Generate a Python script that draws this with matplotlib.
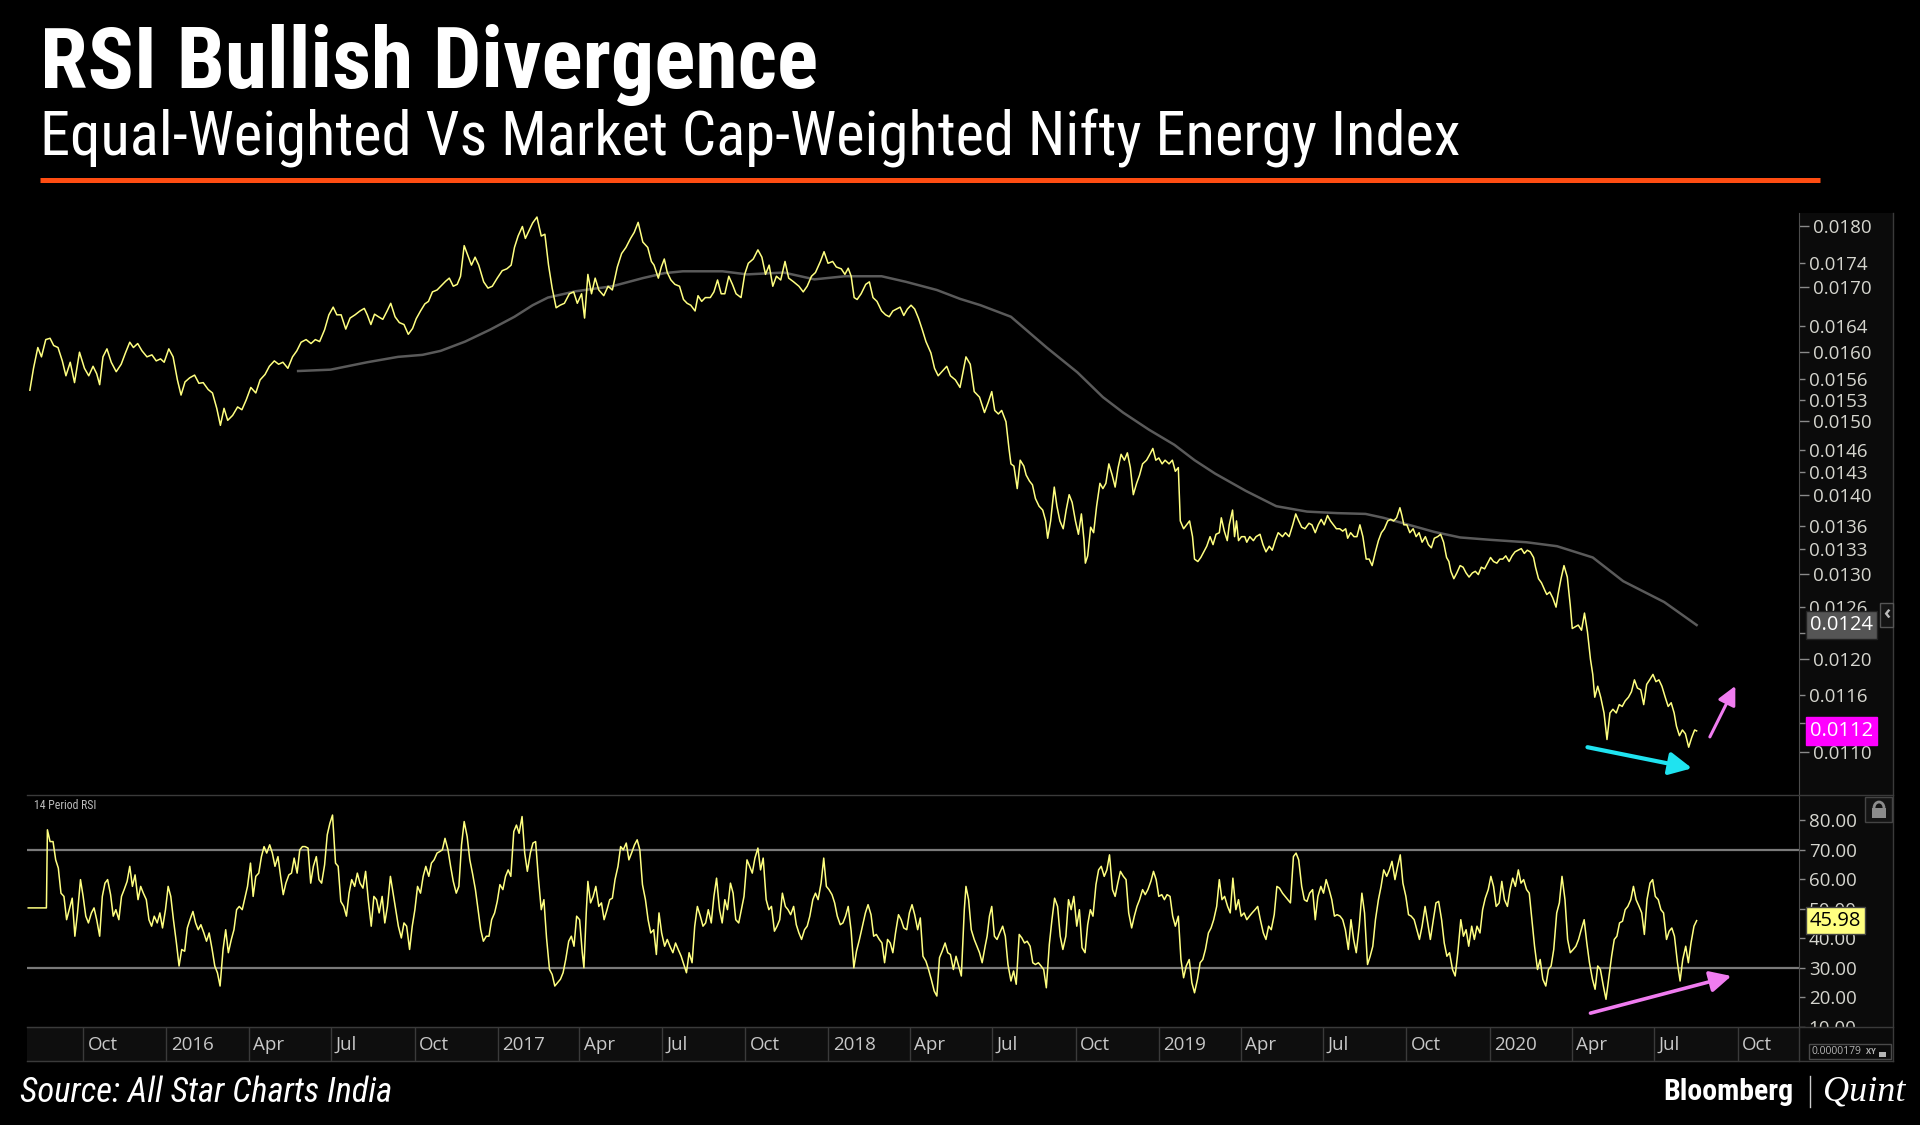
import os
import matplotlib.pyplot as plt
import matplotlib.transforms as mtransforms
from matplotlib.patches import Rectangle, Arc
from matplotlib.lines import Line2D
from matplotlib import font_manager as fm
import numpy as np
import pandas as pd

# ---- data (dates as decimal years) ----
price_years = [
    2015.587, 2015.598, 2015.611, 2015.622, 2015.635, 2015.648, 2015.659, 2015.672, 2015.685, 2015.696,
    2015.709, 2015.722, 2015.737, 2015.752, 2015.765, 2015.778, 2015.789, 2015.798, 2015.808, 2015.820,
    2015.833, 2015.848, 2015.863, 2015.876, 2015.889, 2015.900, 2015.913, 2015.926, 2015.941, 2015.956,
    2015.969, 2015.982, 2015.993, 2016.007, 2016.020, 2016.033, 2016.044, 2016.056, 2016.070, 2016.085,
    2016.098, 2016.111, 2016.126, 2016.139, 2016.152, 2016.163, 2016.174, 2016.185, 2016.200, 2016.215,
    2016.228, 2016.241, 2016.255, 2016.270, 2016.283, 2016.298, 2016.311, 2016.326, 2016.339, 2016.352,
    2016.367, 2016.381, 2016.394, 2016.407, 2016.422, 2016.437, 2016.450, 2016.463, 2016.478, 2016.491,
    2016.504, 2016.515, 2016.528, 2016.542, 2016.555, 2016.570, 2016.585, 2016.598, 2016.607, 2016.618,
    2016.629, 2016.641, 2016.654, 2016.667, 2016.678, 2016.691, 2016.704, 2016.718, 2016.731, 2016.744,
    2016.755, 2016.768, 2016.781, 2016.792, 2016.804, 2016.818, 2016.829, 2016.844, 2016.855, 2016.867,
    2016.879, 2016.889, 2016.900, 2016.911, 2016.922, 2016.933, 2016.944, 2016.959, 2016.972, 2016.985,
    2017.000, 2017.015, 2017.029, 2017.042, 2017.052, 2017.063, 2017.076, 2017.085, 2017.096, 2017.107,
    2017.120, 2017.133, 2017.144, 2017.155, 2017.166, 2017.178, 2017.190, 2017.203, 2017.218, 2017.231,
    2017.242, 2017.255, 2017.264, 2017.274, 2017.285, 2017.296, 2017.307, 2017.322, 2017.335, 2017.348,
    2017.363, 2017.376, 2017.389, 2017.403, 2017.414, 2017.426, 2017.440, 2017.455, 2017.466, 2017.474,
    2017.487, 2017.496, 2017.505, 2017.514, 2017.525, 2017.537, 2017.551, 2017.563, 2017.574, 2017.585,
    2017.598, 2017.607, 2017.618, 2017.629, 2017.644, 2017.655, 2017.666, 2017.677, 2017.688, 2017.700,
    2017.711, 2017.722, 2017.737, 2017.748, 2017.759, 2017.774, 2017.788, 2017.800, 2017.811, 2017.822,
    2017.833, 2017.844, 2017.857, 2017.870, 2017.881, 2017.896, 2017.912, 2017.925, 2017.937, 2017.950,
    2017.962, 2017.977, 2017.988, 2018.000, 2018.014, 2018.025, 2018.040, 2018.051, 2018.061, 2018.070,
    2018.079, 2018.088, 2018.100, 2018.114, 2018.125, 2018.136, 2018.148, 2018.162, 2018.174, 2018.185,
    2018.196, 2018.207, 2018.218, 2018.229, 2018.240, 2018.251, 2018.262, 2018.274, 2018.285, 2018.296,
    2018.311, 2018.322, 2018.333, 2018.348, 2018.359, 2018.370, 2018.385, 2018.399,
    2018.417, 2018.430, 2018.442, 2018.458, 2018.473, 2018.484, 2018.495, 2018.504, 2018.515, 2018.525,
    2018.538, 2018.547, 2018.553, 2018.562, 2018.572, 2018.581, 2018.592, 2018.599, 2018.609, 2018.618,
    2018.627, 2018.638, 2018.649, 2018.658, 2018.664, 2018.673, 2018.684, 2018.692, 2018.701, 2018.711,
    2018.720, 2018.729, 2018.738, 2018.748, 2018.757, 2018.766, 2018.774, 2018.778, 2018.785, 2018.794,
    2018.803, 2018.812, 2018.822, 2018.831, 2018.840, 2018.849, 2018.859, 2018.868, 2018.877, 2018.886,
    2018.896, 2018.905, 2018.914, 2018.923, 2018.933, 2018.942, 2018.951, 2018.963, 2018.973, 2018.982,
    2018.991, 2019.000, 2019.010, 2019.019, 2019.031, 2019.041, 2019.050, 2019.059, 2019.065, 2019.075,
    2019.084, 2019.093, 2019.102, 2019.108, 2019.118, 2019.127, 2019.136, 2019.145, 2019.155, 2019.164,
    2019.173, 2019.183, 2019.189, 2019.198, 2019.207, 2019.213, 2019.223, 2019.229, 2019.235, 2019.241,
    2019.250, 2019.260, 2019.266, 2019.275, 2019.286, 2019.294, 2019.306, 2019.315, 2019.324, 2019.334,
    2019.343, 2019.352, 2019.361, 2019.374, 2019.383, 2019.394, 2019.405, 2019.414, 2019.423, 2019.432,
    2019.442, 2019.454, 2019.463, 2019.473, 2019.482, 2019.491, 2019.500, 2019.510, 2019.519, 2019.528,
    2019.537, 2019.547, 2019.556, 2019.565, 2019.571, 2019.580, 2019.590, 2019.599, 2019.608, 2019.617,
    2019.627, 2019.636, 2019.645, 2019.655, 2019.664, 2019.673, 2019.682, 2019.692, 2019.701, 2019.710,
    2019.719, 2019.729, 2019.735, 2019.741, 2019.750, 2019.759, 2019.769, 2019.778, 2019.787, 2019.796,
    2019.806, 2019.815, 2019.824, 2019.833, 2019.843, 2019.852, 2019.861, 2019.870, 2019.877, 2019.883,
    2019.892, 2019.901, 2019.911, 2019.920, 2019.929, 2019.938, 2019.948, 2019.957, 2019.966, 2019.975,
    2019.985, 2019.994, 2020.003, 2020.012, 2020.022, 2020.031, 2020.040, 2020.049, 2020.059, 2020.068,
    2020.077, 2020.086, 2020.096, 2020.105, 2020.114, 2020.123, 2020.133, 2020.139, 2020.148, 2020.157,
    2020.167, 2020.173, 2020.182, 2020.191, 2020.201, 2020.207, 2020.216, 2020.225, 2020.235, 2020.244,
    2020.250, 2020.259, 2020.268, 2020.278, 2020.287, 2020.296, 2020.305, 2020.312, 2020.318, 2020.327,
    2020.336, 2020.346, 2020.355, 2020.364, 2020.373, 2020.383, 2020.392, 2020.401, 2020.410, 2020.420,
    2020.429, 2020.438, 2020.447, 2020.457, 2020.466, 2020.475, 2020.484, 2020.494, 2020.503, 2020.512,
    2020.521, 2020.531, 2020.540, 2020.549, 2020.558, 2020.565, 2020.574, 2020.583, 2020.592, 2020.602,
    2020.611, 2020.620, 2020.626,
]
price_vals = [
    0.01544, 0.01576, 0.01607, 0.01593, 0.01619, 0.01621, 0.01610, 0.01607, 0.01587, 0.01565,
    0.01585, 0.01555, 0.01600, 0.01576, 0.01565, 0.01579, 0.01568, 0.01552, 0.01593, 0.01605,
    0.01585, 0.01571, 0.01582, 0.01599, 0.01615, 0.01607, 0.01613, 0.01602, 0.01593, 0.01596,
    0.01587, 0.01590, 0.01585, 0.01605, 0.01593, 0.01559, 0.01537, 0.01556, 0.01562, 0.01566,
    0.01554, 0.01555, 0.01545, 0.01540, 0.01518, 0.01494, 0.01518, 0.01501, 0.01508, 0.01520,
    0.01516, 0.01530, 0.01548, 0.01540, 0.01559, 0.01567, 0.01579, 0.01587, 0.01582, 0.01585,
    0.01576, 0.01593, 0.01602, 0.01615, 0.01619, 0.01613, 0.01619, 0.01616, 0.01634, 0.01657,
    0.01669, 0.01657, 0.01657, 0.01635, 0.01652, 0.01657, 0.01663, 0.01667, 0.01657, 0.01642,
    0.01658, 0.01654, 0.01650, 0.01663, 0.01675, 0.01654, 0.01645, 0.01642, 0.01627, 0.01636,
    0.01651, 0.01663, 0.01674, 0.01678, 0.01693, 0.01696, 0.01702, 0.01710, 0.01715, 0.01702,
    0.01705, 0.01718, 0.01768, 0.01752, 0.01736, 0.01749, 0.01736, 0.01709, 0.01699, 0.01702,
    0.01715, 0.01727, 0.01730, 0.01736, 0.01765, 0.01784, 0.01800, 0.01780, 0.01793, 0.01806,
    0.01816, 0.01784, 0.01787, 0.01736, 0.01699, 0.01668, 0.01672, 0.01675, 0.01690, 0.01693,
    0.01675, 0.01690, 0.01652, 0.01721, 0.01690, 0.01715, 0.01696, 0.01687, 0.01702, 0.01696,
    0.01733, 0.01755, 0.01765, 0.01780, 0.01790, 0.01807, 0.01774, 0.01765, 0.01742, 0.01736,
    0.01715, 0.01733, 0.01746, 0.01724, 0.01712, 0.01705, 0.01702, 0.01681, 0.01675, 0.01672,
    0.01663, 0.01687, 0.01678, 0.01684, 0.01684, 0.01693, 0.01712, 0.01690, 0.01690, 0.01718,
    0.01705, 0.01690, 0.01684, 0.01721, 0.01739, 0.01746, 0.01761, 0.01749, 0.01721, 0.01736,
    0.01702, 0.01718, 0.01712, 0.01742, 0.01715, 0.01709, 0.01702, 0.01693, 0.01702, 0.01718,
    0.01724, 0.01742, 0.01758, 0.01739, 0.01742, 0.01733, 0.01730, 0.01721, 0.01731, 0.01718,
    0.01684, 0.01681, 0.01690, 0.01705, 0.01709, 0.01684, 0.01678, 0.01663, 0.01657, 0.01654,
    0.01663, 0.01666, 0.01669, 0.01656, 0.01666, 0.01672, 0.01666, 0.01651, 0.01634, 0.01616,
    0.01599, 0.01576, 0.01565, 0.01573, 0.01579, 0.01565, 0.01559, 0.01548,
    0.01593, 0.01582, 0.01542, 0.01534, 0.01512, 0.01526, 0.01542, 0.01515, 0.01510, 0.01515,
    0.01499, 0.01462, 0.01441, 0.01438, 0.01408, 0.01446, 0.01438, 0.01426, 0.01418, 0.01413,
    0.01395, 0.01385, 0.01380, 0.01366, 0.01344, 0.01366, 0.01410, 0.01385, 0.01366, 0.01356,
    0.01380, 0.01400, 0.01390, 0.01366, 0.01349, 0.01375, 0.01341, 0.01313, 0.01322, 0.01358,
    0.01351, 0.01385, 0.01415, 0.01408, 0.01415, 0.01441, 0.01426, 0.01410, 0.01436, 0.01454,
    0.01446, 0.01456, 0.01436, 0.01400, 0.01415, 0.01426, 0.01441, 0.01446, 0.01454, 0.01462,
    0.01446, 0.01449, 0.01441, 0.01446, 0.01441, 0.01446, 0.01431, 0.01436, 0.01366, 0.01356,
    0.01361, 0.01366, 0.01346, 0.01318, 0.01315, 0.01320, 0.01327, 0.01334, 0.01346, 0.01336,
    0.01349, 0.01351, 0.01370, 0.01353, 0.01341, 0.01361, 0.01380, 0.01346, 0.01366, 0.01341,
    0.01346, 0.01346, 0.01339, 0.01346, 0.01341, 0.01346, 0.01349, 0.01336, 0.01327, 0.01334,
    0.01329, 0.01341, 0.01351, 0.01346, 0.01351, 0.01346, 0.01361, 0.01375, 0.01366, 0.01358,
    0.01356, 0.01363, 0.01361, 0.01351, 0.01361, 0.01368, 0.01361, 0.01373, 0.01366, 0.01361,
    0.01356, 0.01356, 0.01353, 0.01356, 0.01344, 0.01351, 0.01346, 0.01346, 0.01361, 0.01346,
    0.01318, 0.01318, 0.01310, 0.01327, 0.01341, 0.01351, 0.01356, 0.01366, 0.01368, 0.01366,
    0.01370, 0.01383, 0.01373, 0.01361, 0.01361, 0.01351, 0.01356, 0.01346, 0.01351, 0.01339,
    0.01346, 0.01336, 0.01332, 0.01344, 0.01346, 0.01349, 0.01339, 0.01320, 0.01315, 0.01303,
    0.01294, 0.01301, 0.01310, 0.01308, 0.01301, 0.01296, 0.01301, 0.01303, 0.01299, 0.01308,
    0.01306, 0.01313, 0.01320, 0.01315, 0.01313, 0.01318, 0.01318, 0.01322, 0.01315, 0.01322,
    0.01327, 0.01329, 0.01331, 0.01325, 0.01329, 0.01327, 0.01320, 0.01308, 0.01294, 0.01289,
    0.01280, 0.01275, 0.01278, 0.01271, 0.01260, 0.01275, 0.01294, 0.01310, 0.01296, 0.01262,
    0.01235, 0.01237, 0.01239, 0.01233, 0.01253, 0.01231, 0.01200, 0.01183, 0.01158, 0.01170,
    0.01158, 0.01141, 0.01113, 0.01141, 0.01145, 0.01141, 0.01150, 0.01148, 0.01154, 0.01158,
    0.01164, 0.01177, 0.01168, 0.01166, 0.01150, 0.01172, 0.01177, 0.01183, 0.01175, 0.01177,
    0.01170, 0.01158, 0.01148, 0.01152, 0.01141, 0.01127, 0.01117, 0.01123, 0.01119, 0.01105,
    0.01115, 0.01123, 0.01122,
]

ma_years = [
    2016.398, 2016.496, 2016.607, 2016.700, 2016.774, 2016.829, 2016.903, 2016.978,
    2017.052, 2017.107, 2017.153, 2017.237, 2017.348, 2017.440, 2017.505, 2017.561, 2017.681, 2017.755, 2017.866, 2017.959,
    2018.051, 2018.162, 2018.236, 2018.329, 2018.399, 2018.461, 2018.553, 2018.661, 2018.754, 2018.831, 2018.892, 2018.970,
    2019.047, 2019.108, 2019.170, 2019.263, 2019.355, 2019.448, 2019.540, 2019.625, 2019.679, 2019.756, 2019.833, 2019.911,
    2020.003, 2020.111, 2020.204, 2020.312, 2020.404, 2020.528, 2020.626,
]
ma_vals = [
    0.01572, 0.01574, 0.01585, 0.01593, 0.01596, 0.01602, 0.01616, 0.01634,
    0.01654, 0.01672, 0.01684, 0.01694, 0.01702, 0.01715, 0.01723, 0.01726, 0.01726, 0.01721, 0.01724, 0.01713,
    0.01718, 0.01718, 0.01709, 0.01696, 0.01682, 0.01672, 0.01654, 0.01607, 0.01570, 0.01534, 0.01512, 0.01488,
    0.01467, 0.01446, 0.01428, 0.01405, 0.01385, 0.01378, 0.01376, 0.01375, 0.01370, 0.01361, 0.01352, 0.01345,
    0.01342, 0.01339, 0.01334, 0.01320, 0.01291, 0.01266, 0.01239,
]

rsi_years = [
    2015.582, 2015.637, 2015.640, 2015.648, 2015.657, 2015.665, 2015.673, 2015.681, 2015.690, 2015.698,
    2015.706, 2015.715, 2015.723, 2015.731, 2015.740, 2015.748, 2015.756, 2015.764, 2015.773, 2015.781,
    2015.789, 2015.798, 2015.806, 2015.814, 2015.822, 2015.831, 2015.839, 2015.847, 2015.856, 2015.864,
    2015.872, 2015.881, 2015.889, 2015.897, 2015.905, 2015.914, 2015.922, 2015.930, 2015.939, 2015.947,
    2015.955, 2015.963, 2015.972, 2015.980, 2015.988, 2015.997, 2016.005, 2016.013, 2016.021, 2016.030,
    2016.038, 2016.046, 2016.055, 2016.063, 2016.071, 2016.080, 2016.088, 2016.096, 2016.104, 2016.113,
    2016.121, 2016.129, 2016.138, 2016.146, 2016.154, 2016.162, 2016.171, 2016.179, 2016.187, 2016.196,
    2016.204, 2016.212, 2016.220, 2016.229, 2016.237, 2016.245, 2016.254, 2016.262, 2016.270, 2016.279,
    2016.287, 2016.295, 2016.303, 2016.312, 2016.320, 2016.328, 2016.337, 2016.345, 2016.353, 2016.361,
    2016.370, 2016.378, 2016.386, 2016.395, 2016.403, 2016.411, 2016.419, 2016.428, 2016.436, 2016.444,
    2016.453, 2016.461, 2016.469, 2016.478, 2016.486, 2016.494, 2016.502, 2016.511, 2016.519, 2016.527,
    2016.536, 2016.544, 2016.552, 2016.560, 2016.569, 2016.577, 2016.585, 2016.594, 2016.602, 2016.610,
    2016.619, 2016.627, 2016.635, 2016.643, 2016.652, 2016.660, 2016.668, 2016.677, 2016.685, 2016.693,
    2016.701, 2016.710, 2016.718, 2016.726, 2016.735, 2016.743, 2016.751, 2016.759, 2016.768, 2016.776,
    2016.784, 2016.793, 2016.801, 2016.809, 2016.818, 2016.826, 2016.834, 2016.842, 2016.851, 2016.859,
    2016.867, 2016.876, 2016.884, 2016.892, 2016.900, 2016.909, 2016.917, 2016.925, 2016.934, 2016.942,
    2016.950, 2016.958, 2016.967, 2016.975, 2016.983, 2016.992, 2017.000, 2017.008, 2017.017, 2017.025,
    2017.033, 2017.041, 2017.050, 2017.058, 2017.066, 2017.075, 2017.083, 2017.091, 2017.100, 2017.108,
    2017.116, 2017.124, 2017.133, 2017.141, 2017.149, 2017.158, 2017.166, 2017.174, 2017.182, 2017.191,
    2017.199, 2017.207, 2017.216, 2017.224, 2017.232, 2017.240, 2017.249, 2017.257, 2017.262, 2017.269,
    2017.274, 2017.282, 2017.290, 2017.298, 2017.307, 2017.315, 2017.323, 2017.332, 2017.340, 2017.348,
    2017.356, 2017.365, 2017.373, 2017.381, 2017.390, 2017.398, 2017.406, 2017.415, 2017.423, 2017.431,
    2017.439, 2017.448, 2017.456, 2017.464, 2017.473, 2017.481, 2017.489, 2017.497, 2017.506, 2017.514,
    2017.522, 2017.531, 2017.539, 2017.547, 2017.556, 2017.564, 2017.572, 2017.580, 2017.589, 2017.597,
    2017.605, 2017.614, 2017.622, 2017.630, 2017.638, 2017.647, 2017.655, 2017.663, 2017.672, 2017.680,
    2017.688, 2017.696, 2017.705, 2017.713, 2017.721, 2017.730, 2017.738, 2017.746, 2017.755, 2017.763,
    2017.771, 2017.779, 2017.788, 2017.796, 2017.804, 2017.813, 2017.821, 2017.829, 2017.838, 2017.846,
    2017.854, 2017.862, 2017.871, 2017.879, 2017.887, 2017.896, 2017.904, 2017.912, 2017.920, 2017.929,
    2017.937, 2017.945, 2017.954, 2017.962, 2017.970, 2017.979, 2017.987, 2017.995, 2018.003, 2018.012,
    2018.020, 2018.028, 2018.037, 2018.045, 2018.053, 2018.061, 2018.070, 2018.078, 2018.086, 2018.095,
    2018.105, 2018.113, 2018.121, 2018.130, 2018.138, 2018.146, 2018.155, 2018.163, 2018.171, 2018.180,
    2018.188, 2018.196, 2018.204, 2018.213, 2018.221, 2018.229, 2018.238, 2018.246, 2018.254, 2018.262,
    2018.271, 2018.279, 2018.287, 2018.296, 2018.304, 2018.312, 2018.321, 2018.329, 2018.337, 2018.345,
    2018.354, 2018.362, 2018.370, 2018.379, 2018.387, 2018.395, 2018.403, 2018.412, 2018.417, 2018.425,
    2018.433, 2018.442, 2018.450, 2018.458, 2018.466, 2018.475, 2018.481, 2018.488, 2018.495, 2018.503,
    2018.511, 2018.519, 2018.528, 2018.536, 2018.544, 2018.553, 2018.561, 2018.569, 2018.578, 2018.586,
    2018.594, 2018.602, 2018.611, 2018.619, 2018.627, 2018.636, 2018.644, 2018.652, 2018.660, 2018.669,
    2018.677, 2018.685, 2018.694, 2018.702, 2018.710, 2018.719, 2018.727, 2018.735, 2018.743, 2018.752,
    2018.760, 2018.768, 2018.777, 2018.785, 2018.793, 2018.801, 2018.810, 2018.818, 2018.826, 2018.835,
    2018.843, 2018.851, 2018.860, 2018.868, 2018.876, 2018.884, 2018.893, 2018.901, 2018.909, 2018.918,
    2018.926, 2018.934, 2018.942, 2018.951, 2018.959, 2018.967, 2018.976, 2018.984, 2018.992, 2019.000,
    2019.009, 2019.017, 2019.025, 2019.034, 2019.042, 2019.050, 2019.059, 2019.067, 2019.075, 2019.083,
    2019.092, 2019.100, 2019.108, 2019.117, 2019.125, 2019.133, 2019.141, 2019.150, 2019.158, 2019.166,
    2019.175, 2019.183, 2019.191, 2019.199, 2019.208, 2019.216, 2019.224, 2019.233, 2019.241, 2019.249,
    2019.258, 2019.266, 2019.274, 2019.282, 2019.291, 2019.299, 2019.307, 2019.316, 2019.324, 2019.332,
    2019.340, 2019.349, 2019.357, 2019.365, 2019.374, 2019.382, 2019.390, 2019.398, 2019.407, 2019.415,
    2019.423, 2019.432, 2019.440, 2019.448, 2019.456, 2019.465, 2019.473, 2019.481, 2019.490, 2019.498,
    2019.506, 2019.515, 2019.523, 2019.531, 2019.539, 2019.548, 2019.556, 2019.564, 2019.573, 2019.581,
    2019.589, 2019.597, 2019.606, 2019.614, 2019.622, 2019.631, 2019.639, 2019.647, 2019.655, 2019.664,
    2019.672, 2019.680, 2019.689, 2019.697, 2019.705, 2019.714, 2019.722, 2019.730, 2019.738, 2019.747,
    2019.755, 2019.763, 2019.772, 2019.780, 2019.788, 2019.796, 2019.805, 2019.813, 2019.821, 2019.830,
    2019.838, 2019.846, 2019.855, 2019.863, 2019.871, 2019.879, 2019.888, 2019.896, 2019.904, 2019.913,
    2019.921, 2019.929, 2019.937, 2019.946, 2019.954, 2019.962, 2019.971, 2019.979, 2019.987, 2019.996,
    2020.004, 2020.012, 2020.020, 2020.029, 2020.037, 2020.045, 2020.054, 2020.062, 2020.070, 2020.078,
    2020.087, 2020.095, 2020.103, 2020.112, 2020.120, 2020.128, 2020.136, 2020.145, 2020.153, 2020.161,
    2020.170, 2020.178, 2020.186, 2020.194, 2020.203, 2020.211, 2020.219, 2020.228, 2020.236, 2020.244,
    2020.253, 2020.261, 2020.269, 2020.277, 2020.286, 2020.294, 2020.302, 2020.311, 2020.319, 2020.327,
    2020.335, 2020.344, 2020.352, 2020.360, 2020.369, 2020.377, 2020.385, 2020.393, 2020.402, 2020.410,
    2020.418, 2020.427, 2020.435, 2020.443, 2020.452, 2020.460, 2020.468, 2020.476, 2020.485, 2020.493,
    2020.501, 2020.510, 2020.518, 2020.526, 2020.535, 2020.543, 2020.551, 2020.559, 2020.568, 2020.576,
    2020.584, 2020.593, 2020.601, 2020.609, 2020.618, 2020.626,
]
rsi_vals = [
    50.3, 50.3, 76.8, 72.8, 72.8, 66.6, 63.8, 55.3, 54.2, 46.3,
    49.7, 53.6, 40.7, 48.6, 59.9, 54.2, 47.5, 45.2, 48.6, 50.3,
    46.3, 40.7, 54.2, 58.7, 59.9, 54.8, 47.5, 49.7, 46.3, 54.2,
    56.5, 59.3, 64.4, 57.6, 61.5, 53.1, 57.6, 55.3, 53.1, 46.3,
    44.1, 47.5, 45.2, 48.6, 43.5, 49.7, 57.6, 54.2, 46.3, 38.4,
    30.6, 36.2, 35.6, 43.5, 46.3, 49.1, 45.2, 42.9, 44.6, 41.8,
    39.0, 41.8, 36.2, 30.6, 28.3, 23.8, 36.2, 42.9, 35.1, 39.6,
    42.9, 49.7, 50.8, 49.7, 53.6, 57.6, 65.5, 54.2, 61.0, 62.1,
    67.7, 71.1, 68.9, 71.7, 68.9, 64.4, 67.7, 61.0, 54.8, 58.7,
    61.5, 62.1, 67.2, 62.1, 70.0, 71.1, 71.1, 70.6, 58.7, 64.4,
    67.7, 59.9, 58.7, 64.9, 75.1, 79.0, 81.8, 65.5, 64.4, 52.5,
    50.8, 47.5, 55.3, 59.9, 57.6, 62.1, 58.7, 57.0, 62.7, 53.1,
    44.1, 54.2, 53.1, 48.6, 54.2, 45.2, 50.8, 61.0, 55.3, 49.7,
    44.1, 40.1, 45.2, 44.1, 36.2, 44.1, 49.7, 57.6, 55.3, 61.0,
    64.4, 61.0, 65.5, 66.6, 68.9, 69.4, 70.0, 73.9, 70.0, 64.4,
    59.3, 55.3, 57.6, 71.7, 79.6, 74.5, 66.6, 62.1, 56.5, 49.7,
    42.9, 39.0, 40.7, 40.7, 46.3, 48.6, 52.5, 58.2, 56.5, 61.0,
    63.2, 61.0, 76.2, 78.4, 75.6, 81.3, 68.9, 62.7, 68.9, 72.3,
    72.8, 61.0, 49.7, 53.1, 40.1, 29.4, 27.7, 23.8, 24.9, 26.1,
    28.3, 32.8, 39.0, 40.7, 37.3, 47.5, 46.3, 35.1, 30.0, 48.6,
    59.3, 52.0, 54.2, 57.6, 50.8, 52.0, 46.3, 49.7, 53.1, 53.6,
    59.9, 64.4, 71.1, 70.0, 72.3, 66.6, 68.9, 71.7, 73.4, 70.0,
    58.2, 53.1, 46.3, 41.8, 42.9, 34.5, 48.6, 41.8, 37.3, 39.6,
    37.3, 35.1, 38.4, 36.2, 33.9, 31.1, 28.3, 35.1, 31.7, 44.1,
    50.8, 47.5, 44.1, 45.2, 49.7, 45.2, 54.2, 60.4, 49.7, 45.2,
    53.1, 49.7, 58.7, 55.3, 46.3, 45.2, 49.7, 54.2, 66.6, 64.4,
    62.1, 67.2, 70.6, 63.2, 67.2, 53.1, 49.7, 50.8, 42.4, 44.1,
    46.3, 55.3, 50.8, 49.7, 48.0, 50.8, 44.6, 41.8, 39.6, 42.9,
    44.1, 47.5, 53.1, 55.3, 53.1, 58.7, 67.2, 57.6, 56.5, 54.8,
    52.0, 47.5, 44.6, 45.2, 47.5, 50.8, 42.4, 30.0, 35.6, 39.6,
    44.6, 48.6, 51.4, 48.0, 40.7, 41.3, 39.6, 38.4, 31.7, 39.6,
    38.4, 35.1, 41.8, 48.0, 46.3, 43.5, 42.9, 48.6, 51.4, 48.0,
    42.9, 46.9, 33.9, 32.2, 29.4, 26.1, 22.1, 20.4, 33.4, 35.6,
    38.4, 35.1, 34.5, 29.4, 33.9, 30.6, 27.2, 49.7, 57.6, 53.1,
    42.9, 39.6, 37.3, 35.1, 31.7, 37.3, 40.7, 47.5, 50.8, 40.7,
    39.6, 41.8, 44.1, 40.7, 31.1, 25.5, 28.9, 24.4, 41.3, 40.1,
    38.4, 39.0, 37.3, 31.7, 31.1, 31.7, 30.6, 29.4, 23.2, 37.9,
    46.3, 53.6, 50.8, 40.7, 36.2, 40.7, 53.1, 49.7, 54.2, 44.1,
    49.7, 36.8, 35.1, 44.6, 49.7, 47.5, 58.2, 63.2, 64.4, 61.0,
    63.2, 68.3, 56.5, 54.2, 58.7, 62.7, 61.0, 59.9, 48.6, 43.5,
    47.5, 50.8, 53.1, 56.5, 54.8, 56.5, 59.3, 62.7, 59.9, 54.2,
    54.8, 53.1, 54.8, 54.2, 47.5, 44.1, 47.5, 32.8, 26.6, 30.6,
    32.8, 24.9, 21.5, 26.1, 31.7, 32.8, 36.2, 41.8, 43.5, 46.3,
    50.8, 59.9, 53.1, 54.2, 50.8, 48.6, 60.4, 49.7, 53.1, 47.5,
    48.6, 46.3, 47.5, 48.6, 49.7, 50.8, 46.3, 41.8, 39.6, 44.1,
    42.9, 48.0, 57.6, 57.0, 55.3, 54.2, 53.1, 52.0, 67.7, 68.9,
    66.6, 57.6, 53.1, 52.5, 55.3, 56.5, 46.3, 54.2, 57.6, 55.3,
    59.9, 56.5, 53.1, 47.5, 48.0, 47.5, 46.3, 42.9, 36.2, 46.3,
    39.6, 35.1, 44.1, 55.3, 48.6, 31.1, 33.9, 37.3, 46.3, 53.1,
    57.6, 63.2, 61.0, 63.2, 66.1, 59.9, 64.4, 68.3, 58.7, 54.2,
    48.0, 47.5, 46.3, 42.9, 39.6, 44.1, 50.8, 45.2, 39.6, 46.3,
    52.0, 52.5, 46.3, 38.4, 33.9, 35.1, 29.4, 27.2, 35.1, 46.3,
    40.7, 42.9, 37.3, 44.1, 39.6, 44.1, 41.8, 49.7, 53.6, 56.5,
    61.0, 57.6, 50.8, 52.0, 59.3, 53.1, 50.8, 56.5, 60.4, 57.6,
    63.2, 58.7, 59.9, 56.5, 55.3, 46.3, 37.3, 29.4, 32.8, 26.1,
    23.8, 29.4, 30.6, 36.2, 48.6, 52.0, 61.0, 53.1, 39.6, 35.1,
    36.2, 37.3, 39.6, 42.9, 46.3, 38.4, 31.7, 26.1, 22.7, 30.6,
    29.4, 23.8, 19.3, 26.1, 33.9, 39.6, 40.7, 45.2, 45.8, 49.7,
    50.8, 53.1, 57.6, 53.1, 50.8, 48.6, 41.3, 53.1, 58.7, 59.9,
    54.2, 53.1, 49.7, 48.6, 39.6, 42.4, 43.5, 40.7, 31.7, 25.5,
    32.8, 37.3, 31.7, 38.4, 44.1, 45.98,
]

# annotation arrows: (start year, start value) -> (end year, end value)
cyan_arrow = [(2020.296, 0.01105), (2020.612, 0.010834)]
price_up_arrow = [(2020.666, 0.011157), (2020.743, 0.011703)]
rsi_up_arrow = [(2020.305, 14.6), (2020.731, 27.2)]

price_major = [0.0110, 0.0120, 0.0130, 0.0140, 0.0150, 0.0160, 0.0170, 0.0180]
price_minor = [0.0113, 0.0116, 0.0123, 0.0126, 0.0133, 0.0136, 0.0143, 0.0146,
               0.0153, 0.0156, 0.0164, 0.0174]
hidden_minor = [0.0113, 0.0123]   # labels sit fully under the value tags
rsi_ticks = [10, 20, 30, 40, 50, 60, 70, 80]


def to_dates(years):
    years = np.asarray(years, dtype=float)
    return (pd.Timestamp('2016-01-01')
            + pd.to_timedelta((years - 2016) * 365.25, unit='D')).values


# ---- fonts: look for a condensed face, else fall back to Roboto ----
font_files = [f.fname for f in fm.fontManager.ttflist]


def find_face(patterns, exclude=()):
    for pat in patterns:
        for fn in font_files:
            base = os.path.basename(fn)
            if pat.lower() in base.lower() and not any(e.lower() in base.lower() for e in exclude):
                return fn
    return None


bold_c = find_face(['RobotoCondensed-Bold', 'LiberationSansNarrow-Bold', 'NotoSans-CondensedBold',
                    'OpenSans-CondensedBold', 'OpenSans_Condensed-Bold', 'DejaVuSansCondensed-Bold'],
                   exclude=('Italic', 'Oblique', 'Extra', 'Semi'))
reg_c = find_face(['RobotoCondensed-Regular', 'LiberationSansNarrow-Regular', 'NotoSans-Condensed.',
                   'OpenSans-CondensedRegular', 'OpenSans_Condensed-Regular', 'DejaVuSansCondensed.'])
ital_c = find_face(['RobotoCondensed-Italic', 'LiberationSansNarrow-Italic', 'NotoSans-CondensedItalic',
                    'OpenSans-CondensedItalic', 'DejaVuSansCondensed-Oblique'],
                   exclude=('Bold', 'Light', 'Semi', 'Extra', 'Medium', 'Thin', 'Black'))


def face(path, size, **fallback):
    if path:
        return fm.FontProperties(fname=path, size=size)
    return fm.FontProperties(family='Roboto', size=size, **fallback)


names = {f.name for f in fm.fontManager.ttflist}
UI = 'Open Sans' if 'Open Sans' in names else 'DejaVu Sans'
plt.rcParams['font.family'] = [UI, 'DejaVu Sans']

YELLOW = '#FFFF80'
W, H = 1920, 1125
fig = plt.figure(figsize=(W / 100, H / 100), dpi=100, facecolor='black')


def fx(px):
    return px / W


def fy(py):
    return 1 - py / H


L, R = 27, 1799
x0, x1 = to_dates([2015.5783, 2020.9355])

# right axis column background
fig.patches.append(Rectangle((fx(R), fy(1061)), fx(1893) - fx(R), fy(213) - fy(1061),
                             transform=fig.transFigure, fc='#0b0b0b', ec='none', zorder=-5))

# ---- price panel ----
ax_p = fig.add_axes([fx(L), fy(795), fx(R) - fx(L), fy(213) - fy(795)])
ax_p.set_facecolor('black')
ax_p.plot(to_dates(ma_years), ma_vals, color='#5a5a5a', lw=1.8)
ax_p.plot(to_dates(price_years), price_vals, color=YELLOW, lw=1.1)
ax_p.set_yscale('log')
ax_p.set_ylim(0.010566, 0.018229)
ax_p.set_xlim(x0, x1)
ax_p.yaxis.tick_right()
ax_p.set_yticks(price_major, labels=[f'{v:.4f}' for v in price_major])
ax_p.set_yticks(price_minor, minor=True,
                labels=['' if v in hidden_minor else f'{v:.4f}' for v in price_minor])
ax_p.set_xticks([])
ax_p.tick_params(axis='y', which='both', colors='#8a8a8a', labelcolor='#d6d6cf',
                 labelsize=13.5, pad=3, width=1)
ax_p.tick_params(axis='y', which='major', length=7)
ax_p.tick_params(axis='y', which='minor', length=4)
for s in ['left', 'top', 'bottom']:
    ax_p.spines[s].set_visible(False)
ax_p.spines['right'].set_color('#4d4d4d')

# ---- RSI panel ----
ax_r = fig.add_axes([fx(L), fy(1027), fx(R) - fx(L), fy(795) - fy(1027)])
ax_r.set_facecolor('black')
ax_r.axhline(70, color='#7a7a7a', lw=1.6)
ax_r.axhline(30, color='#7a7a7a', lw=1.6)
ax_r.plot(to_dates(rsi_years), rsi_vals, color=YELLOW, lw=1.1)
ax_r.set_ylim(9.9, 88.6)
ax_r.set_xlim(x0, x1)
ax_r.yaxis.tick_right()
ax_r.set_yticks(rsi_ticks, labels=[f'{v:.2f}' for v in rsi_ticks])
ax_r.set_xticks([])
ax_r.tick_params(axis='y', colors='#8a8a8a', labelcolor='#d6d6cf', labelsize=13.5,
                 pad=3, length=4, width=1)
for s in ['left', 'top', 'bottom']:
    ax_r.spines[s].set_visible(False)
ax_r.spines['right'].set_color('#4d4d4d')
ax_r.text(0.004, 0.955, '14 Period RSI', transform=ax_r.transAxes,
          fontproperties=face(reg_c, 8.5), color='#bdbdbd', va='center', ha='left')

# ---- date band ----
ax_d = fig.add_axes([fx(L), fy(1061), fx(R) - fx(L), fy(1027) - fy(1061)])
ax_d.set_zorder(3)
ax_d.set_facecolor('#0e0e0e')
ax_d.set_xlim(x0, x1)
ax_d.set_ylim(0, 1)
ax_d.set_xticks([])
ax_d.set_yticks([])
for s in ['left', 'right']:
    ax_d.spines[s].set_visible(False)
for s in ['top', 'bottom']:
    ax_d.spines[s].set_color('#3a3a3a')
sep_dates = pd.date_range('2015-10-01', '2020-10-01', freq='QS')
trans = (mtransforms.blended_transform_factory(ax_d.transData, ax_d.transAxes)
         + mtransforms.ScaledTranslation(0.045, 0, fig.dpi_scale_trans))
for d in sep_dates:
    ax_d.axvline(d, color='#3a3a3a', lw=1)
    lab = str(d.year) if d.month == 1 else d.strftime('%b')
    ax_d.text(d, 0.47, lab, transform=trans, ha='left', va='center',
              fontsize=13.5, color='#c8c8c8', clip_on=False)

# cover below RSI panel in right column
fig.patches.append(Rectangle((fx(R), fy(1061)), fx(1893) - fx(R), fy(1027) - fy(1061),
                             transform=fig.transFigure, fc='#0b0b0b', ec='none', zorder=4))

# frame lines
for (xa, xb, ya, yb) in [(L, 1893, 795, 795), (L, 1893, 1027, 1027), (L, 1893, 1061, 1061),
                         (1893, 1893, 213, 1061), (R, R, 1027, 1061)]:
    fig.add_artist(Line2D([fx(xa), fx(xb)], [fy(ya), fy(yb)], transform=fig.transFigure,
                          color='#3a3a3a', lw=1, zorder=5))

# ---- last value tags ----
tag_kw = dict(xycoords=('axes fraction', 'data'), textcoords='offset pixels',
              ha='left', va='center', fontsize=14.5, annotation_clip=False, zorder=6)
ax_p.annotate(f'{ma_vals[-1]:.4f}', xy=(1, ma_vals[-1]), xytext=(11, 0), color='white',
              bbox=dict(boxstyle='square,pad=0.18', fc='#555555', ec='#222222', lw=1), **tag_kw)
ax_p.annotate(f'{price_vals[-1]:.4f}', xy=(1, price_vals[-1]), xytext=(11, 0), color='white',
              bbox=dict(boxstyle='square,pad=0.18', fc='#FF00FF', ec='#FF00FF', lw=1), **tag_kw)
ax_r.annotate(f'{rsi_vals[-1]:.2f}', xy=(1, rsi_vals[-1]), xytext=(11, 0), color='black',
              bbox=dict(boxstyle='square,pad=0.18', fc='#FFFF80', ec='#444444', lw=1), **tag_kw)


# ---- arrows ----
def arrow(ax, pts, color, lw, scale):
    (ya, va), (yb, vb) = pts
    ax.annotate('', xy=(to_dates([yb])[0], vb), xytext=(to_dates([ya])[0], va),
                annotation_clip=False,
                arrowprops=dict(arrowstyle='-|>,head_length=0.8,head_width=0.4', color=color,
                                lw=lw, mutation_scale=scale, shrinkA=0, shrinkB=0))


arrow(ax_p, cyan_arrow, '#1FE3F0', 3.0, 17)
arrow(ax_p, price_up_arrow, '#F07CF0', 2.2, 14)
arrow(ax_r, rsi_up_arrow, '#F07CF0', 2.6, 16)

# ---- small widgets on the right column ----
fig.patches.append(Rectangle((fx(1880), fy(627)), fx(1893) - fx(1880), fy(603) - fy(627),
                             transform=fig.transFigure, fc='#141414', ec='#555555', lw=1, zorder=6))
fig.text(fx(1886.5), fy(615), '‹', color='#bbbbbb', fontsize=14, fontweight='bold',
         ha='center', va='center', zorder=7)
fig.patches.append(Rectangle((fx(1865), fy(822)), fx(1892) - fx(1865), fy(797) - fy(822),
                             transform=fig.transFigure, fc='#141414', ec='#444444', lw=1, zorder=6))
fig.patches.append(Rectangle((fx(1872), fy(818)), fx(1886) - fx(1872), fy(808) - fy(818),
                             transform=fig.transFigure, fc='#8c8c8c', ec='none', zorder=7))
fig.patches.append(Arc((fx(1879), fy(808)), fx(10), 12 / H, theta1=0, theta2=180,
                       transform=fig.transFigure, color='#8c8c8c', lw=2, zorder=7))
fig.patches.append(Rectangle((fx(1809), fy(1059)), fx(1891) - fx(1809), fy(1044) - fy(1059),
                             transform=fig.transFigure, fc='#0b0b0b', ec='#4a4a4a', lw=1, zorder=6))
fig.text(fx(1812), fy(1051.5), '0.0000179', color='#b5b5b5', fontsize=7.5, va='center', zorder=7)
fig.text(fx(1866), fy(1051.5), 'XY', color='#b5b5b5', fontsize=5.5, fontweight='bold',
         va='center', zorder=7)
fig.patches.append(Rectangle((fx(1879), fy(1057)), fx(7), 5 / H, transform=fig.transFigure,
                             fc='#b5b5b5', ec='none', zorder=7))

# ---- titles and footer (fitted to the reference widths) ----
t_title = fig.text(fx(40), fy(88), 'RSI Bullish Divergence', fontproperties=face(bold_c, 61, weight='bold'),
                   color='white', va='baseline', ha='left')
t_sub = fig.text(fx(40), fy(156), 'Equal-Weighted Vs Market Cap-Weighted Nifty Energy Index',
                 fontproperties=face(reg_c, 46), color='white', va='baseline', ha='left')
fig.add_artist(Line2D([fx(40), fx(1820)], [fy(180), fy(180)], transform=fig.transFigure,
                      color='#FF4D12', lw=3.6, solid_capstyle='butt'))

t_src = fig.text(fx(20), fy(1102), 'Source: All Star Charts India',
                 fontproperties=face(ital_c, 27, style='italic'),
                 color='white', va='baseline', ha='left')
t_bb = fig.text(fx(1663), fy(1100), 'Bloomberg', fontproperties=face(bold_c, 22, weight='bold'),
                color='white', va='baseline', ha='left')
fig.add_artist(Line2D([fx(1810), fx(1810)], [fy(1076), fy(1107)], transform=fig.transFigure,
                      color='#cccccc', lw=1))
fig.text(fx(1823), fy(1100), 'Quint', fontsize=26, style='italic', family='Liberation Serif',
         color='white', va='baseline', ha='left')

renderer = fig.canvas.get_renderer()
for t, target in [(t_title, 778), (t_sub, 1421), (t_src, 372), (t_bb, 130)]:
    w = t.get_window_extent(renderer).width
    if w > 0:
        t.set_fontsize(t.get_fontsize() * target / w)

fig.savefig('out.png', dpi=100, facecolor='black')
